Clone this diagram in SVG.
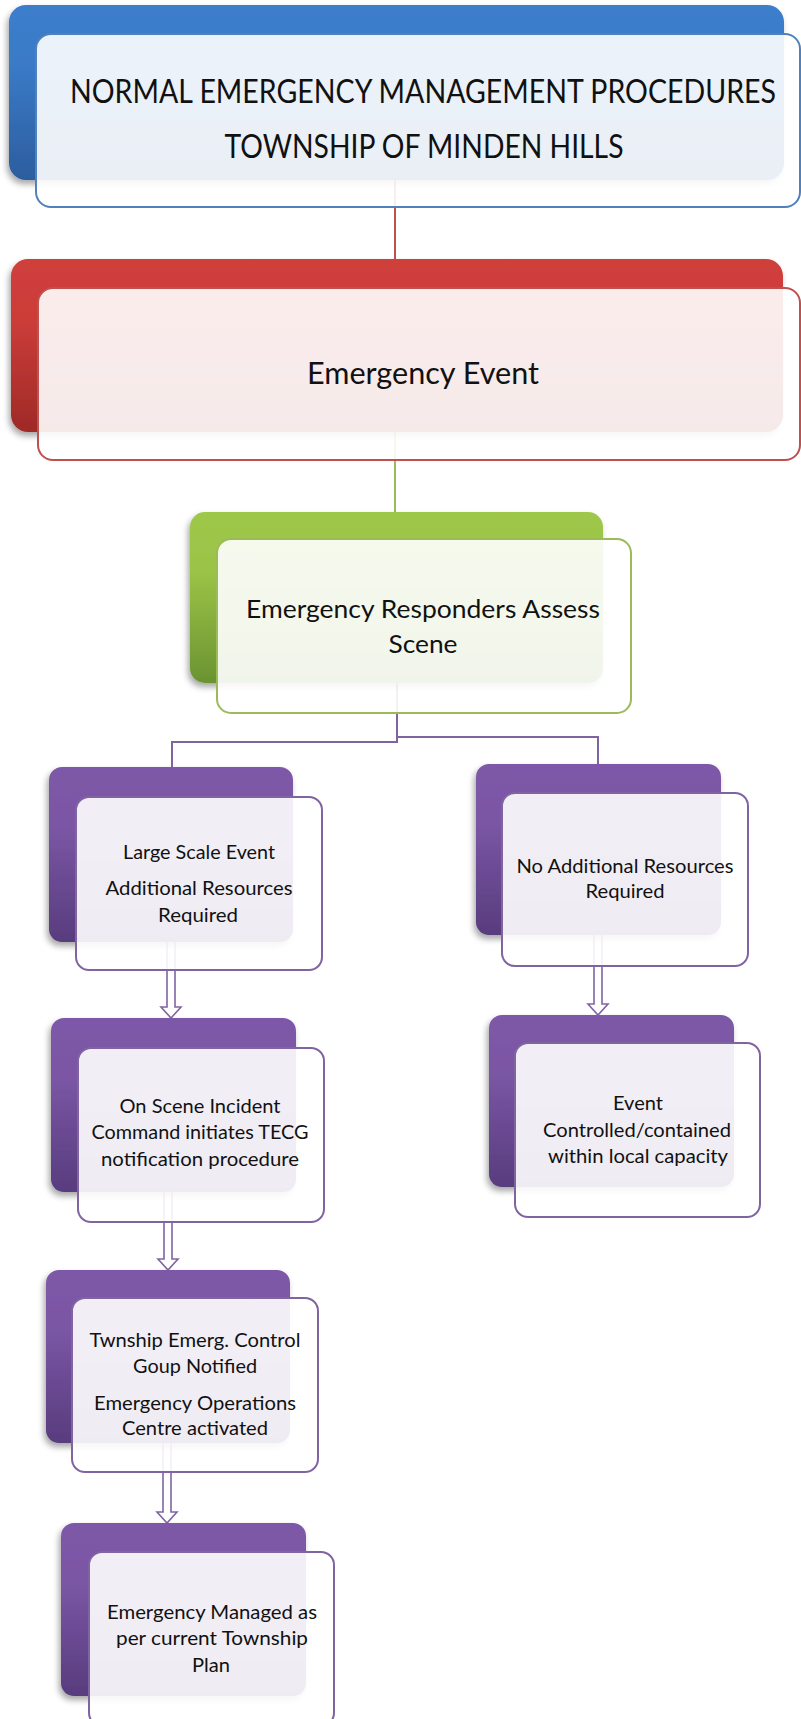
<svg xmlns="http://www.w3.org/2000/svg" width="801" height="1719" viewBox="0 0 801 1719">
  <defs>
    <linearGradient id="gBlue" x1="0" y1="0" x2="0" y2="1">
      <stop offset="0" stop-color="#3c7ecc"/>
      <stop offset="0.35" stop-color="#3a7ac6"/>
      <stop offset="1" stop-color="#2c5d9f"/>
    </linearGradient>
    <linearGradient id="gRed" x1="0" y1="0" x2="0" y2="1">
      <stop offset="0" stop-color="#cf3f3b"/>
      <stop offset="0.35" stop-color="#cc3d39"/>
      <stop offset="1" stop-color="#9e2a27"/>
    </linearGradient>
    <linearGradient id="gGreen" x1="0" y1="0" x2="0" y2="1">
      <stop offset="0" stop-color="#9ec84a"/>
      <stop offset="0.35" stop-color="#9bc347"/>
      <stop offset="1" stop-color="#6a9332"/>
    </linearGradient>
    <linearGradient id="gPurple" x1="0" y1="0" x2="0" y2="1">
      <stop offset="0" stop-color="#7d59a8"/>
      <stop offset="0.35" stop-color="#7a56a4"/>
      <stop offset="1" stop-color="#583c7e"/>
    </linearGradient>
    <filter id="shadow" x="-10%" y="-10%" width="120%" height="130%">
      <feDropShadow dx="-2" dy="4" stdDeviation="3" flood-color="#000" flood-opacity="0.35"/>
    </filter>
  </defs>
  <style>
    .back { filter: url(#shadow); }
    .front { fill: #ffffff; fill-opacity: 0.9; stroke-width: 2; }
    .fb { stroke: #4f81bd; }
    .fr { stroke: #c0504d; }
    .fg { stroke: #9bbb59; }
    .fp { stroke: #8064a2; }
    .link { fill: none; stroke-width: 2; }
    .arrow { fill: #ffffff; stroke: #8064a2; stroke-width: 1.6; stroke-linejoin: miter; }
    text { font-family: Lato, "Open Sans", "DejaVu Sans", sans-serif; text-anchor: middle; fill: #111111; }
    .t1 { font-size: 32px; }
    .t2 { font-size: 31px; }
    .t3 { font-size: 25px; }
    .t4 { font-size: 20px; }
  </style>

  <!-- connectors -->
  <g id="connectors">
    <path class="link" stroke="#c0504d" d="M395,180 V259"/>
    <path class="link" stroke="#9bbb59" d="M395,432 V512"/>
    <path class="link" stroke="#8064a2" d="M397,683 V742 H172 V767"/>
    <path class="link" stroke="#8064a2" d="M397,683 V737 H598 V764"/>
    <path class="arrow" d="M167,942 V1007 H161 L171,1018 L181,1007 H175 V942"/>
    <path class="arrow" d="M594,935 V1004 H588 L598,1015 L608,1004 H602 V935"/>
    <path class="arrow" d="M164,1192 V1259 H158 L168,1270 L178,1259 H172 V1192"/>
    <path class="arrow" d="M163,1443 V1512 H157 L167,1523 L177,1512 H171 V1443"/>
  </g>

  <!-- title -->
  <g id="node-title">
    <rect class="back" x="9" y="5" width="775" height="175" rx="17" fill="url(#gBlue)"/>
    <rect class="front fb" x="36" y="34" width="764" height="173" rx="15"/>
    <text class="t1" x="423" y="103" textLength="706" lengthAdjust="spacingAndGlyphs">NORMAL EMERGENCY MANAGEMENT PROCEDURES</text>
    <text class="t1" x="424" y="158" textLength="399" lengthAdjust="spacingAndGlyphs">TOWNSHIP OF MINDEN HILLS</text>
  </g>

  <!-- emergency event -->
  <g id="node-event">
    <rect class="back" x="11" y="259" width="772" height="173" rx="17" fill="url(#gRed)"/>
    <rect class="front fr" x="38" y="288" width="762" height="172" rx="15"/>
    <text class="t2" x="423" y="384" textLength="232" lengthAdjust="spacingAndGlyphs">Emergency Event</text>
  </g>

  <!-- assess scene -->
  <g id="node-assess">
    <rect class="back" x="190" y="512" width="413" height="171" rx="15" fill="url(#gGreen)"/>
    <rect class="front fg" x="217" y="539" width="414" height="174" rx="14"/>
    <text class="t3" x="423" y="618" textLength="354" lengthAdjust="spacingAndGlyphs">Emergency Responders Assess</text>
    <text class="t3" x="423" y="653" textLength="69" lengthAdjust="spacingAndGlyphs">Scene</text>
  </g>

  <!-- large scale event -->
  <g id="node-large">
    <rect class="back" x="49" y="767" width="244" height="175" rx="13" fill="url(#gPurple)"/>
    <rect class="front fp" x="76" y="797" width="246" height="173" rx="13"/>
    <text class="t4" x="199" y="859" textLength="152" lengthAdjust="spacingAndGlyphs">Large Scale Event</text>
    <text class="t4" x="199" y="895" textLength="187" lengthAdjust="spacingAndGlyphs">Additional Resources</text>
    <text class="t4" x="198" y="922" textLength="80" lengthAdjust="spacingAndGlyphs">Required</text>
  </g>

  <!-- no additional resources -->
  <g id="node-noadd">
    <rect class="back" x="476" y="764" width="245" height="171" rx="13" fill="url(#gPurple)"/>
    <rect class="front fp" x="502" y="793" width="246" height="173" rx="13"/>
    <text class="t4" x="625" y="873" textLength="217" lengthAdjust="spacingAndGlyphs">No Additional Resources</text>
    <text class="t4" x="625" y="898" textLength="79" lengthAdjust="spacingAndGlyphs">Required</text>
  </g>

  <!-- on scene incident command -->
  <g id="node-onscene">
    <rect class="back" x="51" y="1018" width="245" height="174" rx="13" fill="url(#gPurple)"/>
    <rect class="front fp" x="78" y="1048" width="246" height="174" rx="13"/>
    <text class="t4" x="200" y="1113" textLength="161" lengthAdjust="spacingAndGlyphs">On Scene Incident</text>
    <text class="t4" x="200" y="1139" textLength="217" lengthAdjust="spacingAndGlyphs">Command initiates TECG</text>
    <text class="t4" x="200" y="1166" textLength="198" lengthAdjust="spacingAndGlyphs">notification procedure</text>
  </g>

  <!-- event controlled -->
  <g id="node-controlled">
    <rect class="back" x="489" y="1015" width="245" height="172" rx="13" fill="url(#gPurple)"/>
    <rect class="front fp" x="515" y="1043" width="245" height="174" rx="13"/>
    <text class="t4" x="638" y="1110" textLength="50" lengthAdjust="spacingAndGlyphs">Event</text>
    <text class="t4" x="637" y="1137" textLength="188" lengthAdjust="spacingAndGlyphs">Controlled/contained</text>
    <text class="t4" x="638" y="1163" textLength="180" lengthAdjust="spacingAndGlyphs">within local capacity</text>
  </g>

  <!-- control group notified -->
  <g id="node-notified">
    <rect class="back" x="46" y="1270" width="244" height="173" rx="13" fill="url(#gPurple)"/>
    <rect class="front fp" x="72" y="1298" width="246" height="174" rx="13"/>
    <text class="t4" x="195" y="1347" textLength="211" lengthAdjust="spacingAndGlyphs">Twnship Emerg. Control</text>
    <text class="t4" x="195" y="1373" textLength="124" lengthAdjust="spacingAndGlyphs">Goup Notified</text>
    <text class="t4" x="195" y="1410" textLength="202" lengthAdjust="spacingAndGlyphs">Emergency Operations</text>
    <text class="t4" x="195" y="1435" textLength="146" lengthAdjust="spacingAndGlyphs">Centre activated</text>
  </g>

  <!-- managed per township plan -->
  <g id="node-managed">
    <rect class="back" x="61" y="1523" width="245" height="173" rx="13" fill="url(#gPurple)"/>
    <rect class="front fp" x="89" y="1552" width="245" height="174" rx="13"/>
    <text class="t4" x="212" y="1619" textLength="210" lengthAdjust="spacingAndGlyphs">Emergency Managed as</text>
    <text class="t4" x="212" y="1645" textLength="192" lengthAdjust="spacingAndGlyphs">per current Township</text>
    <text class="t4" x="211" y="1672" textLength="38" lengthAdjust="spacingAndGlyphs">Plan</text>
  </g>
</svg>
